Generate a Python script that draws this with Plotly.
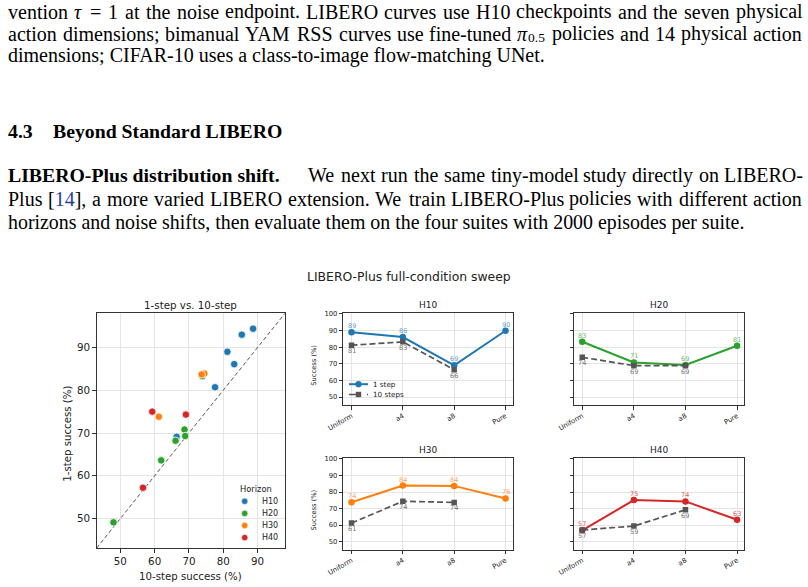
import plotly.graph_objects as go

W, H = 808, 587

# ---------------- data ----------------
conditions = ["Uniform", "a4", "a8", "Pure"]
horizons = ["H10", "H20", "H30", "H40"]
colors = {"H10": "#1f77b4", "H20": "#2ca02c", "H30": "#ff7f0e", "H40": "#d62728"}
label_colors = {"H10": "rgba(31,119,180,0.75)", "H20": "rgba(44,160,44,0.75)",
                "H30": "rgba(255,127,14,0.75)", "H40": "rgba(214,39,40,0.8)"}

one_step = {
    "H10": [89.0, 86.1, 69.1, 89.9],
    "H20": [83.3, 70.8, 69.3, 80.9],
    "H30": [73.8, 83.9, 83.7, 76.1],
    "H40": [56.8, 75.1, 74.3, 63.2],
}
ten_step = {
    "H10": [81.2, 83.2, 66.4, None],
    "H20": [73.9, 68.9, 68.9, None],
    "H30": [61.2, 74.4, 73.7, None],
    "H40": [57.0, 59.4, 69.2, None],
}

# scatter: 10-step success (x) vs 1-step success (y)
sc_ten = {
    "H10": [88.7, 85.4, 81.2, 83.2, 77.6, 66.4],
    "H20": [73.9, 68.7, 68.9, 66.1, 61.9, 48.0],
    "H30": [74.5, 73.7, 61.2],
    "H40": [56.6, 59.3, 69.1],
}
sc_one = {
    "H10": [94.4, 93.0, 89.0, 86.1, 80.7, 69.1],
    "H20": [83.3, 70.8, 69.3, 68.2, 63.6, 49.1],
    "H30": [83.9, 83.7, 73.8],
    "H40": [57.2, 75.0, 74.3],
}
sc_ticks = [50, 60, 70, 80, 90]
line_yticks = [50, 60, 70, 80, 90, 100]

# ---------------- helpers ----------------
def fx(p):
    return p / W

def fy(p):
    return 1 - p / H

TR = {' ': 250, ',': 250, '-': 333, '.': 250, ';': 278, ':': 278, '[': 333, ']': 333, '=': 564,
      'A': 722, 'B': 667, 'C': 667, 'D': 722, 'E': 611, 'F': 556, 'G': 722, 'H': 722, 'I': 333,
      'J': 389, 'K': 722, 'L': 611, 'M': 889, 'N': 722, 'O': 722, 'P': 556, 'Q': 722, 'R': 667,
      'S': 556, 'T': 611, 'U': 722, 'V': 722, 'W': 944, 'X': 722, 'Y': 722, 'Z': 611,
      'a': 444, 'b': 500, 'c': 444, 'd': 500, 'e': 444, 'f': 333, 'g': 500, 'h': 500, 'i': 278,
      'j': 278, 'k': 500, 'l': 278, 'm': 778, 'n': 500, 'o': 500, 'p': 500, 'q': 500, 'r': 333,
      's': 389, 't': 278, 'u': 500, 'v': 500, 'w': 722, 'x': 500, 'y': 500, 'z': 444}
for d in "0123456789":
    TR[d] = 500

FS = 20.0          # regular size (layout metrics + rendering)
FS_B = 19.75       # bold size
SERIF = "Liberation Serif, Times New Roman, serif"
SANS = "DejaVu Sans, sans-serif"


def tw(s):
    return sum(TR.get(c, 500) for c in s) / 1000.0 * FS * 0.99


annotations = []
shapes = []


def text_at(x_px, base_px, html, size=FS, family=SERIF, color="black"):
    annotations.append(dict(x=fx(x_px), y=fy(base_px - 0.338 * size), xref="paper", yref="paper",
                            xanchor="left", yanchor="middle", text=html, showarrow=False,
                            borderpad=0, font=dict(family=family, size=size, color=color)))


def justify(tokens, x0, x1, base):
    total = sum(w for _, w in tokens)
    gap = (x1 - x0 - total) / (len(tokens) - 1)
    x = x0
    for html, w in tokens:
        if html == "PI05":
            text_at(x, base, "<i>π</i>")
            text_at(x + 0.55 * FS, base + 1.8, "0.5", size=13.5)
        else:
            text_at(x, base, html)
        x += w + gap


def plain(words):
    return [(w, tw(w)) for w in words]


# ---------------- body text ----------------
line1 = plain(["vention"]) + [("<i>τ</i>", 0.45 * FS), ("=", 0.6 * FS), ("1", 0.5 * FS)] + plain(
    "at the noise endpoint. LIBERO curves use H10 checkpoints and the seven physical".split())
justify(line1, 7, 800.5, 18.4)

line2 = plain("action dimensions; bimanual YAM RSS curves use fine-tuned".split()) + \
    [("PI05", 1.43 * FS)] + plain("policies and 14 physical action".split())
justify(line2, 7, 800.5, 40.4)

text_at(7, 62.6, "dimensions; CIFAR-10 uses a class-to-image flow-matching UNet.")

text_at(7, 137.7, "<b>4.3</b>", size=FS_B)
text_at(52, 137.7, "<b>Beyond Standard LIBERO</b>", size=FS_B)

text_at(7, 182, "<b>LIBERO-Plus distribution shift.</b>", size=FS_B)
justify(plain("We next run the same tiny-model study directly on LIBERO-".split()), 307, 801.5, 182)

line5 = plain(["Plus"]) + [("[<span style='color:#2540a0'>14</span>],", tw("[14],"))] + plain(
    "a more varied LIBERO extension. We train LIBERO-Plus policies with different action".split())
justify(line5, 7, 800.5, 205.4)

text_at(7, 228.8, "horizons and noise shifts, then evaluate them on the four suites with 2000 episodes per suite.",
        size=19.9)

# ---------------- figure ----------------
fig = go.Figure()

TXT = "#222222"
SPINE = "#333333"
GRID = "#e4e4e4"

# scatter panel
lo, hi = 43.1, 98.0
fig.add_trace(go.Scatter(x=[lo, hi], y=[lo, hi], mode="lines", xaxis="x", yaxis="y",
                         line=dict(color="#555555", width=1, dash="4px,2.5px"),
                         hoverinfo="skip", showlegend=False))
for h in horizons:
    fig.add_trace(go.Scatter(x=sc_ten[h], y=sc_one[h], mode="markers", xaxis="x", yaxis="y",
                             marker=dict(color=colors[h], size=7.5, line=dict(color="white", width=0.8)),
                             name=h, showlegend=False))

# line panels
panel_axes = {"H10": ("x2", "y2"), "H20": ("x3", "y3"), "H30": ("x4", "y4"), "H40": ("x5", "y5")}
for h in horizons:
    xa, ya = panel_axes[h]
    fig.add_trace(go.Scatter(x=conditions, y=one_step[h], mode="lines+markers", xaxis=xa, yaxis=ya,
                             line=dict(color=colors[h], width=2),
                             marker=dict(symbol="circle", size=6.5, color=colors[h]),
                             name="1 step", showlegend=False))
    fig.add_trace(go.Scatter(x=conditions, y=ten_step[h], mode="lines+markers", xaxis=xa, yaxis=ya,
                             line=dict(color="#555555", width=1.7, dash="6px,3px"),
                             marker=dict(symbol="square", size=5.5, color="#555555"),
                             name="10 steps", showlegend=False))
    for c, v in zip(conditions, one_step[h]):
        if v is not None:
            annotations.append(dict(x=c, y=v, xref=xa, yref=ya, text=f"{v:.0f}", showarrow=False,
                                    yshift=6, font=dict(family=SANS, size=6.5, color=label_colors[h])))
    for c, v in zip(conditions, ten_step[h]):
        if v is not None:
            annotations.append(dict(x=c, y=v, xref=xa, yref=ya, text=f"{v:.0f}", showarrow=False,
                                    yshift=-6, font=dict(family=SANS, size=6.5, color="rgba(85,85,85,0.85)")))


def axis_common(**kw):
    d = dict(showline=True, mirror=True, linecolor=SPINE, linewidth=1, ticks="outside", ticklen=3.5,
             tickcolor=SPINE, tickwidth=0.8, showgrid=True, gridcolor=GRID, gridwidth=0.8,
             zeroline=False, fixedrange=True, automargin=False)
    d.update(kw)
    return d


layout_axes = {}
layout_axes["xaxis"] = axis_common(domain=[fx(96.7), fx(285)], range=[lo, hi], anchor="y",
                                   tickvals=sc_ticks, tickfont=dict(family=SANS, size=10.3, color=TXT))
layout_axes["yaxis"] = axis_common(domain=[fy(548), fy(313.3)], range=[lo, hi], anchor="x",
                                   tickvals=sc_ticks, tickfont=dict(family=SANS, size=10.3, color=TXT))

boxes = {
    "H10": (343.3, 512.7, 313.3, 405.0, True),
    "H20": (574.0, 744.3, 313.3, 405.0, False),
    "H30": (343.3, 512.7, 458.3, 549.5, True),
    "H40": (574.0, 744.3, 458.3, 549.5, False),
}
for i, h in enumerate(horizons):
    x0, x1, y0, y1, lab = boxes[h]
    n = i + 2
    layout_axes[f"xaxis{n}"] = axis_common(domain=[fx(x0), fx(x1)], anchor=f"y{n}", type="category",
                                           categoryorder="array", categoryarray=conditions,
                                           range=[-0.16, 3.14], tickangle=-30,
                                           tickfont=dict(family=SANS, size=6.8, color=TXT))
    layout_axes[f"yaxis{n}"] = axis_common(domain=[fy(y1), fy(y0)], anchor=f"x{n}", range=[45.2, 100.4],
                                           tickvals=line_yticks, showticklabels=lab,
                                           tickfont=dict(family=SANS, size=6.8, color=TXT))
    annotations.append(dict(x=fx((x0 + x1) / 2), y=fy(y0 - 8.3), xref="paper", yref="paper", text=h,
                            showarrow=False, xanchor="center", yanchor="middle",
                            font=dict(family=SANS, size=9, color=TXT)))
    if lab:
        annotations.append(dict(x=fx(314), y=fy((y0 + y1) / 2 + 6.5), xref="paper", yref="paper",
                                text="Success (%)", textangle=-90, showarrow=False,
                                xanchor="center", yanchor="middle",
                                font=dict(family=SANS, size=6.7, color=TXT)))


def paper_ann(x, y, text, size, angle=0, xanchor="center"):
    annotations.append(dict(x=fx(x), y=fy(y), xref="paper", yref="paper", text=text, showarrow=False,
                            xanchor=xanchor, yanchor="middle", textangle=angle,
                            font=dict(family=SANS, size=size, color=TXT)))


paper_ann(409, 276.7, "LIBERO-Plus full-condition sweep", 12.4)
paper_ann(190.8, 305, "1-step vs. 10-step", 10.3)
paper_ann(190.5, 576, "10-step success (%)", 10.2)
paper_ann(66.7, 434, "1-step success (%)", 10.2, angle=-90)

# scatter legend (Horizon)
paper_ann(256, 489, "Horizon", 8.3)
for k, h in enumerate(horizons):
    cy = 501.3 + 12.1 * k
    r = 3.2
    shapes.append(dict(type="circle", xref="paper", yref="paper", x0=fx(244.7 - r), x1=fx(244.7 + r),
                       y0=fy(cy + r), y1=fy(cy - r), fillcolor=colors[h], line=dict(color="white", width=0.6)))
    paper_ann(260, cy, h, 8.0, xanchor="left")

# H10 line legend
for k, (lab, col, dash, sym) in enumerate([("1 step", colors["H10"], "solid", "circle"),
                                           ("10 steps", "#555555", "dash", "square")]):
    cy = 384.2 + 10.3 * k
    shapes.append(dict(type="line", xref="paper", yref="paper", x0=fx(349), x1=fx(368), y0=fy(cy), y1=fy(cy),
                       line=dict(color=col, width=2 if k == 0 else 1.7, dash=dash)))
    r = 3.1 if k == 0 else 2.7
    shapes.append(dict(type=sym if sym == "circle" else "rect", xref="paper", yref="paper",
                       x0=fx(358.5 - r), x1=fx(358.5 + r), y0=fy(cy + r), y1=fy(cy - r),
                       fillcolor=col, line=dict(color=col, width=0)))
    paper_ann(371, cy, lab, 7.2, xanchor="left")

fig.update_layout(width=W, height=H, margin=dict(l=0, r=0, t=0, b=0, pad=0, autoexpand=False),
                  paper_bgcolor="white", plot_bgcolor="white", showlegend=False,
                  annotations=annotations, shapes=shapes, **layout_axes)

fig.write_html("out.html")
